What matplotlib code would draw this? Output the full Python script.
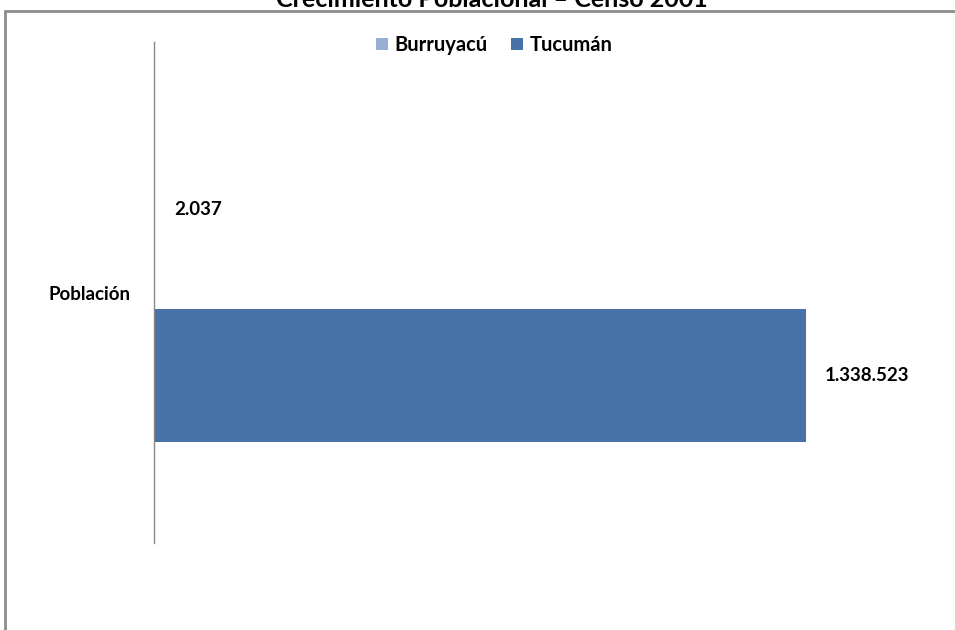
import matplotlib
matplotlib.use("Agg")
import matplotlib.pyplot as plt
from matplotlib.patches import Rectangle, Patch

# data
category = "Población"
series_names = ["Burruyacú", "Tucumán"]
series_values = [2037, 1338523]
series_colors = ["#98AED4", "#4672A8"]
title = "Crecimiento Poblacional – Censo 2001"

plt.rcParams['font.family'] = ['Lato', 'DejaVu Sans']
plt.rcParams['font.weight'] = 'bold'

fig = plt.figure(figsize=(9.55, 6.3), dpi=100)
W, H = 955.0, 630.0

# outer chart frame (cut off at right and bottom)
fig.patches.append(Rectangle((5 / W, -0.2), 1.2, 1.2 - 11 / H, transform=fig.transFigure,
                             fill=False, edgecolor="#8c8c8c", linewidth=2, zorder=0))
# title sits mostly above the picture, as in the original
fig.text(492 / W, 1 - 7 / H, title, ha='center', va='baseline', fontsize=18, fontweight='bold')

ax = fig.add_axes([154 / W, 1 - 543 / H, (933 - 154) / W, (543 - 42) / H])

bar_h = 0.2655
offsets = [0.1657, -0.1657]
for name, val, col, off in zip(series_names, series_values, series_colors, offsets):
    ax.barh(off, val, height=bar_h, color=col, label=name)
    lbl = "{:,}".format(val).replace(",", ".")
    ax.annotate(lbl, (val, off), xytext=(14, 0), textcoords='offset points',
                ha='left', va='center', fontsize=13.5, fontweight='bold')

ax.set_xlim(0, 1600000)
ax.set_ylim(-0.5, 0.5)
ax.set_yticks([0])
ax.set_yticklabels([category], fontsize=13.5, fontweight='bold')
ax.tick_params(axis='y', length=0, pad=17)
ax.set_xticks([])
for s in ['top', 'right', 'bottom']:
    ax.spines[s].set_visible(False)
ax.spines['left'].set_color("#868686")
ax.spines['left'].set_linewidth(1)

handles = [Patch(facecolor=c, edgecolor='none') for c in series_colors]
fig.legend(handles, series_names, loc='center', bbox_to_anchor=(494 / W, 1 - 45 / H),
           ncol=2, frameon=False, handlelength=0.6, handleheight=0.6,
           handletextpad=0.3, columnspacing=1.2, prop={'weight': 'bold', 'size': 14.5})

plt.savefig("out.png", dpi=100)
